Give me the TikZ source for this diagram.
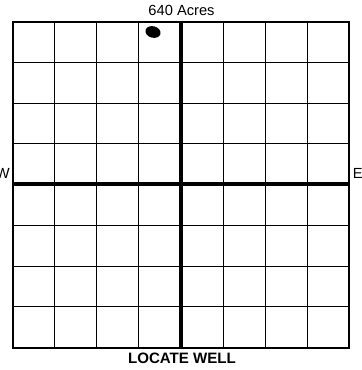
\documentclass[tikz,border=0pt]{standalone}
\usepackage{fontspec}
\setmainfont{Liberation Sans}
\usetikzlibrary{positioning}

\begin{document}
\begin{tikzpicture}[
  x=0.75pt, y=-0.75pt,
  lab/.style={inner sep=0pt, font=\fontsize{11pt}{13pt}\selectfont},
  gridline/.style={line width=0.8pt},
  border/.style={line width=1.7pt},
  axis/.style={line width=3pt}
]
\useasboundingbox (0,0) rectangle (361,370);
% grid cells
\foreach \i in {1,...,7} {
  \draw[gridline] ({12.7+42.08*\i},21.7) -- ({12.7+42.08*\i},347.7);
  \draw[gridline] (12.7,{21.7+40.75*\i}) -- (349.3,{21.7+40.75*\i});
}
\draw[axis] (180.5,21.7) -- (180.5,347.7);
\draw[axis] (12.7,183.5) -- (349.3,183.5);
\draw[border] (12.7,21.7) rectangle (349.3,347.7);
% the well
\coordinate (well) at (153,32);
\fill[rotate around={-15:(well)}] (well) ellipse [x radius=5.8pt, y radius=4.3pt];
\node[lab] (title) at (181.5,10) {640 Acres};
\node[lab, font=\fontsize{11.3pt}{13pt}\selectfont\bfseries] (locate) at (182,358.5) {LOCATE WELL};
\node[lab, anchor=east] (west) at (10,173) {W};
\node[lab, anchor=west] (east) at (352.5,173) {E};
\end{tikzpicture}
\end{document}
